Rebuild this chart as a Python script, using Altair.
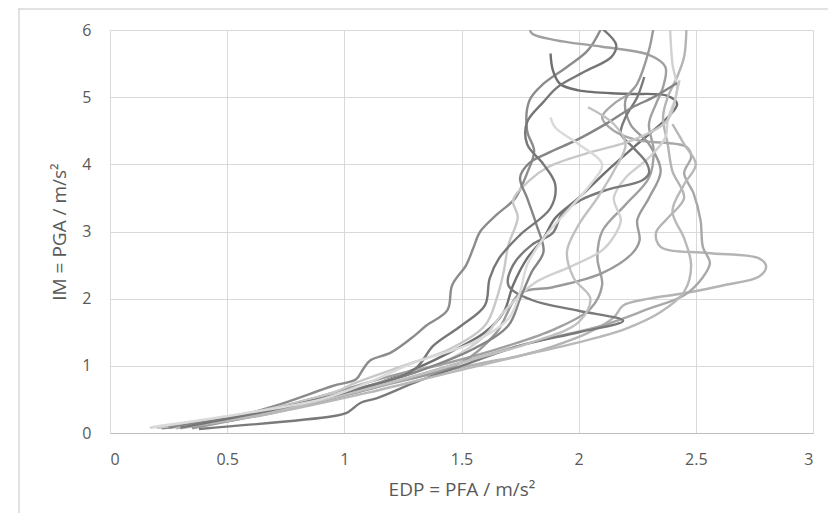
import altair as alt
import pandas as pd

# ---- data: IDA curves (EDP = PFA, IM = PGA), one list per record ----
curve_names = [f"GM{i}" for i in range(1, 15)]
curve_colors = ["#8c8c8c", "#6f6f6f", "#a0a0a0", "#b4b4b4", "#a8a8a8", "#9a9a9a", "#d0d0d0",
                "#7a7a7a", "#c8c8c8", "#858585", "#c0c0c0", "#b8b8b8", "#777777", "#dadada"]

c1_x = [0.22, 0.45, 0.70, 0.95, 1.05, 1.08, 1.11, 1.20, 1.30, 1.35, 1.44, 1.46, 1.52, 1.55, 1.58, 1.65, 1.73, 1.78, 1.81, 1.78, 1.79, 1.85, 1.95, 2.04, 2.10]
c1_y = [0.07, 0.17, 0.40, 0.70, 0.80, 0.95, 1.08, 1.20, 1.45, 1.60, 1.83, 2.20, 2.50, 2.75, 3.00, 3.25, 3.50, 3.87, 4.20, 4.50, 4.95, 5.20, 5.45, 5.70, 6.05]

c2_x = [0.30, 0.60, 0.90, 1.15, 1.30, 1.45, 1.60, 1.68, 1.72, 1.78, 1.85, 1.90, 2.00, 2.12, 2.25, 2.38, 2.42, 2.38, 2.20, 2.00, 1.92, 1.89, 1.88]
c2_y = [0.08, 0.25, 0.50, 0.75, 0.95, 1.20, 1.50, 1.80, 2.20, 2.60, 2.90, 3.20, 3.50, 3.90, 4.30, 4.70, 4.90, 5.02, 5.05, 5.10, 5.20, 5.40, 5.65]

c3_x = [0.20, 0.55, 0.90, 1.20, 1.45, 1.70, 1.90, 2.05, 2.10, 2.08, 2.10, 2.20, 2.30, 2.32, 2.30, 2.33, 2.36, 2.37, 2.30, 2.10, 1.90, 1.80, 1.79]
c3_y = [0.08, 0.25, 0.55, 0.85, 1.05, 1.30, 1.55, 1.85, 2.20, 2.60, 3.00, 3.40, 3.80, 4.20, 4.60, 4.90, 5.15, 5.45, 5.63, 5.75, 5.85, 5.95, 6.05]

c4_x = [0.30, 0.70, 1.10, 1.40, 1.60, 1.75, 1.89, 2.04, 2.15, 2.19, 2.30, 2.45, 2.62, 2.77, 2.80, 2.77, 2.55, 2.35, 2.33, 2.38, 2.45, 2.40, 2.38, 2.36, 2.38, 2.42, 2.45, 2.46]
c4_y = [0.07, 0.30, 0.65, 0.90, 1.05, 1.15, 1.29, 1.49, 1.72, 1.90, 2.00, 2.08, 2.20, 2.33, 2.48, 2.60, 2.68, 2.77, 2.98, 3.20, 3.50, 3.90, 4.30, 4.70, 5.00, 5.30, 5.60, 6.05]

c5_x = [0.25, 0.65, 1.05, 1.40, 1.80, 2.10, 2.30, 2.45, 2.53, 2.56, 2.53, 2.52, 2.49, 2.45, 2.48, 2.46, 2.25, 2.15, 2.10, 2.15, 2.22]
c5_y = [0.08, 0.30, 0.60, 0.95, 1.35, 1.60, 1.85, 2.05, 2.32, 2.53, 2.77, 3.17, 3.57, 3.87, 4.11, 4.26, 4.36, 4.50, 4.70, 4.90, 5.05]

c6_x = [0.35, 0.75, 1.15, 1.50, 1.65, 1.75, 1.89, 2.10, 2.23, 2.26, 2.25, 2.30, 2.35, 2.30, 2.22, 2.20, 2.25, 2.30, 2.32]
c6_y = [0.07, 0.35, 0.70, 1.05, 1.50, 2.08, 2.17, 2.38, 2.68, 2.87, 3.17, 3.50, 3.90, 4.30, 4.60, 4.96, 5.20, 5.70, 6.05]

c7_x = [0.17, 0.50, 0.90, 1.20, 1.45, 1.60, 1.68, 1.81, 1.96, 2.10, 2.16, 2.18, 2.15, 2.20, 2.30, 2.37, 2.38, 2.42, 2.40, 2.39]
c7_y = [0.08, 0.22, 0.50, 0.80, 1.10, 1.45, 1.80, 2.23, 2.47, 2.72, 2.98, 3.17, 3.50, 3.80, 4.10, 4.40, 4.66, 5.10, 5.50, 6.05]

c8_x = [0.38, 0.95, 1.01, 1.07, 1.14, 1.30, 1.50, 1.75, 2.00, 2.19, 2.00, 1.80, 1.70, 1.72, 1.80, 1.89, 1.93, 2.01, 2.12, 2.27, 2.30, 2.29, 2.23, 2.18, 2.20, 2.25, 2.28]
c8_y = [0.06, 0.25, 0.30, 0.45, 0.52, 0.75, 1.00, 1.30, 1.50, 1.67, 1.82, 1.98, 2.20, 2.50, 2.80, 2.98, 3.27, 3.47, 3.62, 3.76, 3.87, 4.02, 4.26, 4.46, 4.70, 5.00, 5.30]

c9_x = [0.20, 0.60, 0.95, 1.05, 1.25, 1.45, 1.60, 1.65, 1.68, 1.70, 1.74, 1.72, 1.79, 1.87, 2.04, 2.23, 2.38, 2.42, 2.43]
c9_y = [0.08, 0.30, 0.60, 0.75, 1.00, 1.25, 1.60, 2.00, 2.40, 2.80, 3.21, 3.47, 3.76, 3.96, 4.17, 4.36, 4.66, 5.10, 5.25]

c10_x = [0.25, 0.60, 1.00, 1.30, 1.55, 1.70, 1.75, 1.80, 1.85, 1.82, 1.78, 1.75, 1.79, 1.87, 1.99, 2.12, 2.23, 2.32, 2.42]
c10_y = [0.08, 0.28, 0.60, 0.90, 1.25, 1.60, 2.00, 2.40, 2.70, 3.10, 3.50, 3.80, 4.02, 4.17, 4.36, 4.61, 4.85, 5.00, 5.21]

c11_x = [0.30, 0.80, 1.25, 1.55, 1.80, 2.00, 2.05, 1.98, 1.95, 2.00, 2.08, 2.15, 2.20, 2.15, 2.04]
c11_y = [0.08, 0.40, 0.80, 1.10, 1.35, 1.65, 2.00, 2.30, 2.70, 3.10, 3.50, 3.90, 4.30, 4.60, 4.85]

c12_x = [0.28, 0.70, 1.10, 1.45, 1.75, 2.00, 2.20, 2.35, 2.45, 2.48, 2.45, 2.40, 2.45, 2.50, 2.45, 2.40]
c12_y = [0.07, 0.30, 0.60, 0.90, 1.15, 1.35, 1.55, 1.80, 2.10, 2.50, 2.90, 3.30, 3.70, 4.00, 4.30, 4.60]

c13_x = [0.30, 0.70, 1.05, 1.30, 1.38, 1.50, 1.60, 1.62, 1.66, 1.75, 1.88, 1.90, 1.85, 1.78, 1.78, 1.85, 1.91, 2.02, 2.14, 2.16, 2.09]
c13_y = [0.08, 0.35, 0.65, 0.95, 1.30, 1.60, 1.90, 2.30, 2.60, 2.95, 3.35, 3.70, 4.00, 4.30, 4.63, 4.93, 5.15, 5.37, 5.60, 5.78, 6.05]

c14_x = [0.18, 0.55, 0.90, 1.10, 1.30, 1.55, 1.70, 1.75, 1.78, 1.85, 1.95, 2.05, 2.10, 2.00, 1.90, 1.88]
c14_y = [0.09, 0.28, 0.50, 0.75, 1.05, 1.35, 1.70, 2.10, 2.50, 2.90, 3.30, 3.70, 4.00, 4.30, 4.55, 4.70]

curves_x = [c1_x, c2_x, c3_x, c4_x, c5_x, c6_x, c7_x, c8_x, c9_x, c10_x, c11_x, c12_x, c13_x, c14_x]
curves_y = [c1_y, c2_y, c3_y, c4_y, c5_y, c6_y, c7_y, c8_y, c9_y, c10_y, c11_y, c12_y, c13_y, c14_y]

x_ticks = [0, 0.5, 1, 1.5, 2, 2.5, 3]
y_ticks = [0, 1, 2, 3, 4, 5, 6]

rows = []
for name, xs, ys in zip(curve_names, curves_x, curves_y):
    for i, (xv, yv) in enumerate(zip(xs, ys)):
        rows.append({"curve": name, "i": i, "EDP": xv, "IM": yv})
df = pd.DataFrame(rows)

FONT = "Open Sans"
GREY = "#595959"

lines = alt.Chart(df).mark_line(
    strokeWidth=2.4, interpolate="catmull-rom", clip=True
).encode(
    x=alt.X("EDP:Q",
            scale=alt.Scale(domain=[0, 3], nice=False, zero=False),
            axis=alt.Axis(values=x_ticks, format="~g", title="EDP = PFA / m/s²",
                          grid=True, gridColor="#d9d9d9", domainColor="#bfbfbf",
                          ticks=False, labelPadding=18, titlePadding=13,
                          labelFontSize=16, titleFontSize=19, labelColor=GREY, titleColor=GREY,
                          labelFont=FONT, titleFont=FONT, titleFontWeight="normal")),
    y=alt.Y("IM:Q",
            scale=alt.Scale(domain=[0, 6], nice=False, zero=False),
            axis=alt.Axis(values=y_ticks, format="~g", title="IM = PGA / m/s²",
                          grid=True, gridColor="#d9d9d9", domain=False,
                          ticks=False, labelPadding=19, titlePadding=12,
                          labelFontSize=16, titleFontSize=19, labelColor=GREY, titleColor=GREY,
                          labelFont=FONT, titleFont=FONT, titleFontWeight="normal")),
    color=alt.Color("curve:N", scale=alt.Scale(domain=curve_names, range=curve_colors), legend=None),
    order=alt.Order("i:Q"),
    detail="curve:N",
)

frame_left = alt.Chart(pd.DataFrame({"a": [0]})).mark_rule(color="#d9d9d9", strokeWidth=1.5).encode(
    x=alt.value(-91), y=alt.value(-22), y2=alt.value(500)
)
frame_top = alt.Chart(pd.DataFrame({"a": [0]})).mark_rule(color="#d9d9d9", strokeWidth=1.5).encode(
    x=alt.value(-91), x2=alt.value(725), y=alt.value(-21)
)

chart = alt.layer(frame_left, frame_top, lines).properties(
    width=703, height=403,
    padding={"left": 102, "top": 22, "right": 15, "bottom": 80},
    autosize=alt.AutoSizeParams(type="none"),
).configure_view(stroke=None).configure(background="white")

chart.save("out.html", embed_options={"renderer": "svg", "actions": False})
